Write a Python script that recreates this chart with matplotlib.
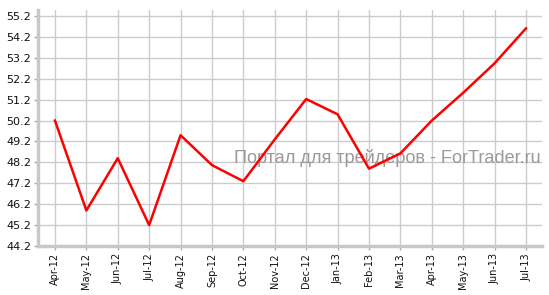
import numpy as np
import matplotlib
matplotlib.use("Agg")
import matplotlib.pyplot as plt

months = ["Apr-12", "May-12", "Jun-12", "Jul-12", "Aug-12", "Sep-12", "Oct-12",
          "Nov-12", "Dec-12", "Jan-13", "Feb-13", "Mar-13", "Apr-13", "May-13",
          "Jun-13", "Jul-13"]
values = [50.2, 45.9, 48.4, 45.2, 49.5, 48.07, 47.3, 49.3, 51.23, 50.5, 47.9,
          48.63, 50.2, 51.53, 52.94, 54.61]
yticks = [44.2, 45.2, 46.2, 47.2, 48.2, 49.2, 50.2, 51.2, 52.2, 53.2, 54.2, 55.2]

fig = plt.figure(figsize=(5.49, 2.95), dpi=100)
ax = fig.add_axes([38/549, 49/295, 504/549, 236/295])

x = np.arange(len(months))
ax.plot(x, values, color="#ff0000", lw=1.8, zorder=3)

ax.set_xlim(-0.54, 15.51)
ax.set_ylim(44.2, 55.49)
ax.set_xticks(x)
ax.set_xticklabels(months, rotation=90, fontsize=7, color="#111111")
ax.set_yticks(yticks)
ax.set_yticklabels([f"{v:.1f}" for v in yticks], fontsize=8, color="#111111")

ax.grid(True, color="#cccccc", lw=1)
ax.set_axisbelow(True)
for s in ["top", "right"]:
    ax.spines[s].set_visible(False)
for s in ["left", "bottom"]:
    ax.spines[s].set_color("#c8c8c8")
    ax.spines[s].set_linewidth(2.5)
ax.tick_params(axis="both", length=3, width=1, color="#aaaaaa", pad=2)

ax.text(0.998, 0.373, "Портал для трейдеров - ForTrader.ru", transform=ax.transAxes,
        ha="right", va="center", fontsize=13.1, family="Liberation Sans",
        color="#a09898", zorder=2)

fig.savefig("out.png", dpi=100)
